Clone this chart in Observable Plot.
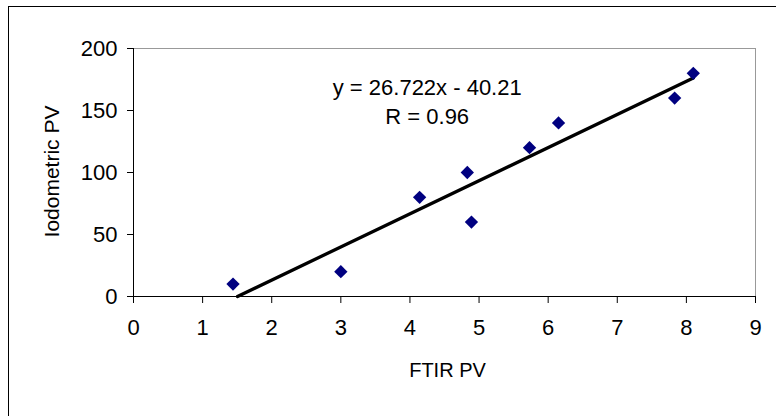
<!DOCTYPE html>
<html>
<head>
<meta charset="utf-8">
<script src="https://cdn.jsdelivr.net/npm/d3@7"></script>
<script src="https://cdn.jsdelivr.net/npm/@observablehq/plot@0.6"></script>
<style>
  html, body { margin: 0; padding: 0; background: #fff; overflow: hidden; }
  #wrap { position: relative; width: 776px; height: 416px; overflow: hidden; }
  #border { position: absolute; left: 8px; top: 6px; width: 900px; height: 600px;
            border-left: 1px solid #000; border-top: 1px solid #000; pointer-events: none; }
</style>
</head>
<body>
<div id="wrap"><div id="border"></div></div>
<script>
// Data
const ftirPV = [1.44, 3.0, 4.14, 4.83, 4.89, 5.73, 6.15, 7.83, 8.10];
const iodometricPV = [10, 20, 80, 100, 60, 120, 140, 160, 180];
const xTicks = [0, 1, 2, 3, 4, 5, 6, 7, 8, 9];
const yTicks = [0, 50, 100, 150, 200];
const trendSlope = 26.722;
const trendIntercept = -40.21;
const equationLabel = "y = 26.722x - 40.21";
const rLabel = "R = 0.96";
const xLabel = "FTIR PV";
const yLabel = "Iodometric PV";
// label anchor (data units)
const labelPos = [{x: 4.25, y: 158.5}];

const data = ftirPV.map((x, i) => ({x, y: iodometricPV[i]}));
const xStart = Math.max(d3.min(ftirPV), -trendIntercept / trendSlope);
const xEnd = d3.max(ftirPV);
const trend = [xStart, xEnd].map(x => ({x, y: trendSlope * x + trendIntercept}));

const font = "'Liberation Sans', Arial, sans-serif";

const chart = Plot.plot({
  width: 776,
  height: 416,
  marginLeft: 133,
  marginRight: 21,
  marginTop: 48,
  marginBottom: 120,
  style: {fontFamily: font, fontSize: "22px", color: "#000", background: "transparent"},
  x: {domain: [0, 9]},
  y: {domain: [0, 200]},
  marks: [
    Plot.ruleY([200], {stroke: "#999", strokeWidth: 1}),
    Plot.ruleX([9], {stroke: "#999", strokeWidth: 1}),
    Plot.axisX({ticks: xTicks, tickSize: 7, tickPadding: 16, label: null, fontSize: 22, stroke: "#000", tickFormat: d => String(d)}),
    Plot.axisY({ticks: yTicks, tickSize: 6, tickPadding: 10, label: null, fontSize: 22, stroke: "#000", tickFormat: d => String(d)}),
    Plot.ruleX([0], {stroke: "#000"}),
    Plot.ruleY([0], {stroke: "#000"}),
    Plot.line(trend, {x: "x", y: "y", stroke: "#000", strokeWidth: 3.3}),
    Plot.dot(data, {x: "x", y: "y", symbol: "diamond2", r: 6, fill: "#000080", stroke: null}),
    Plot.text(labelPos, {x: "x", y: "y", text: () => equationLabel + "\n" + rLabel, fontSize: 22, lineHeight: 1.36, textAnchor: "middle", fill: "#000"}),
    Plot.text([xLabel], {frameAnchor: "bottom", dx: 3, dy: 74, lineAnchor: "middle", textAnchor: "middle", text: d => d, fontSize: 20, fill: "#000"}),
    Plot.text([yLabel], {frameAnchor: "left", dx: -81, dy: -1, rotate: -90, lineAnchor: "middle", textAnchor: "middle", text: d => d, fontSize: 21, fill: "#000"})
  ]
});
document.getElementById("wrap").appendChild(chart);
chart.style.position = "absolute";
chart.style.left = "0";
chart.style.top = "0";
</script>
</body>
</html>
